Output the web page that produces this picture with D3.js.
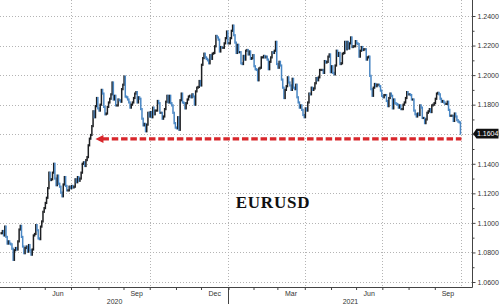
<!DOCTYPE html>
<html>
<head>
<meta charset="utf-8">
<script src="https://cdn.jsdelivr.net/npm/d3@7"></script>
<style>
  html, body { margin: 0; padding: 0; background: #fff; }
  svg { display: block; }
</style>
</head>
<body>
<div id="chart"></div>
<script>
// EURUSD daily closes, one array per month (weekdays)
var apr20 = [1.0930, 1.0945, 1.0915, 1.0975, 1.0905, 1.0860, 1.0875, 1.0860, 1.0855, 1.0825, 1.0750, 1.0815, 1.0830, 1.0820, 1.0875, 1.0955];
var may20 = [1.0980, 1.0905, 1.0840, 1.0795, 1.0830, 1.0840, 1.0805, 1.0850, 1.0815, 1.0785, 1.0820, 1.0915, 1.0925, 1.0985, 1.0950, 1.0895, 1.0890, 1.0975, 1.1010, 1.1075, 1.1100];
var jun20 = [1.1135, 1.1170, 1.1235, 1.1340, 1.1290, 1.1295, 1.1340, 1.1400, 1.1300, 1.1255, 1.1320, 1.1265, 1.1245, 1.1205, 1.1180, 1.1260, 1.1310, 1.1250, 1.1220, 1.1220, 1.1245, 1.1235];
var jul20 = [1.1250, 1.1240, 1.1245, 1.1295, 1.1275, 1.1310, 1.1285, 1.1300, 1.1340, 1.1400, 1.1410, 1.1385, 1.1425, 1.1445, 1.1525, 1.1570, 1.1595, 1.1655, 1.1755, 1.1715, 1.1790, 1.1845, 1.1775];
var aug20 = [1.1760, 1.1800, 1.1900, 1.1875, 1.1785, 1.1735, 1.1740, 1.1785, 1.1815, 1.1840, 1.1870, 1.1950, 1.1835, 1.1860, 1.1795, 1.1795, 1.1835, 1.1830, 1.1820, 1.1905, 1.1935];
var sep20 = [1.1990, 1.1855, 1.1850, 1.1835, 1.1815, 1.1780, 1.1800, 1.1815, 1.1845, 1.1875, 1.1885, 1.1815, 1.1850, 1.1840, 1.1770, 1.1705, 1.1660, 1.1670, 1.1620, 1.1665, 1.1745, 1.1720];
var oct20 = [1.1750, 1.1715, 1.1780, 1.1735, 1.1760, 1.1760, 1.1825, 1.1810, 1.1745, 1.1745, 1.1705, 1.1720, 1.1770, 1.1820, 1.1860, 1.1815, 1.1860, 1.1810, 1.1795, 1.1745, 1.1675, 1.1645];
var nov20 = [1.1640, 1.1715, 1.1630, 1.1830, 1.1875, 1.1815, 1.1810, 1.1775, 1.1810, 1.1835, 1.1855, 1.1860, 1.1850, 1.1870, 1.1855, 1.1800, 1.1890, 1.1915, 1.1920, 1.1960, 1.1930];
var dec20 = [1.2070, 1.2115, 1.2145, 1.2120, 1.2110, 1.2100, 1.2080, 1.2135, 1.2110, 1.2145, 1.2150, 1.2195, 1.2265, 1.2255, 1.2240, 1.2160, 1.2190, 1.2185, 1.2185, 1.2215, 1.2250, 1.2295, 1.2215];
var jan21 = [1.2215, 1.2250, 1.2300, 1.2335, 1.2270, 1.2220, 1.2150, 1.2205, 1.2155, 1.2155, 1.2080, 1.2075, 1.2130, 1.2105, 1.2165, 1.2170, 1.2140, 1.2160, 1.2110, 1.2115, 1.2135];
var feb21 = [1.2060, 1.2040, 1.2035, 1.1965, 1.2045, 1.2050, 1.2120, 1.2120, 1.2130, 1.2120, 1.2125, 1.2105, 1.2040, 1.2090, 1.2120, 1.2155, 1.2150, 1.2165, 1.2225, 1.2075];
var mar21 = [1.2050, 1.2090, 1.2065, 1.1970, 1.1915, 1.1845, 1.1900, 1.1925, 1.1985, 1.1950, 1.1930, 1.1900, 1.1975, 1.1915, 1.1905, 1.1935, 1.1850, 1.1815, 1.1780, 1.1795, 1.1765, 1.1730, 1.1715];
var apr21 = [1.1775, 1.1760, 1.1815, 1.1875, 1.1870, 1.1915, 1.1900, 1.1910, 1.1945, 1.1980, 1.1965, 1.1985, 1.2035, 1.2035, 1.2035, 1.2015, 1.2095, 1.2085, 1.2090, 1.2125, 1.2140, 1.2020];
var may21 = [1.2060, 1.2015, 1.2005, 1.2065, 1.2165, 1.2130, 1.2150, 1.2075, 1.2080, 1.2145, 1.2150, 1.2225, 1.2175, 1.2225, 1.2180, 1.2215, 1.2255, 1.2190, 1.2195, 1.2195, 1.2230];
var jun21 = [1.2215, 1.2210, 1.2125, 1.2165, 1.2190, 1.2170, 1.2175, 1.2175, 1.2105, 1.2120, 1.2125, 1.1995, 1.1905, 1.1860, 1.1915, 1.1940, 1.1925, 1.1935, 1.1935, 1.1925, 1.1895, 1.1860];
var jul21 = [1.1850, 1.1865, 1.1865, 1.1825, 1.1790, 1.1845, 1.1875, 1.1860, 1.1775, 1.1835, 1.1810, 1.1805, 1.1800, 1.1780, 1.1795, 1.1770, 1.1770, 1.1800, 1.1815, 1.1845, 1.1885, 1.1870];
var aug21 = [1.1870, 1.1865, 1.1835, 1.1835, 1.1760, 1.1735, 1.1720, 1.1740, 1.1730, 1.1795, 1.1780, 1.1710, 1.1710, 1.1675, 1.1700, 1.1745, 1.1755, 1.1770, 1.1750, 1.1795, 1.1800, 1.1810];
var sep21 = [1.1840, 1.1875, 1.1880, 1.1870, 1.1840, 1.1820, 1.1825, 1.1815, 1.1805, 1.1805, 1.1820, 1.1765, 1.1725, 1.1725, 1.1725, 1.1690, 1.1740, 1.1720, 1.1695, 1.1685, 1.1680, 1.1604];

var monthNames = ["Apr", "May", "Jun", "Jul", "Aug", "Sep", "Oct", "Nov", "Dec",
                  "Jan", "Feb", "Mar", "Apr", "May", "Jun", "Jul", "Aug", "Sep"];
var monthYears = [2020, 2020, 2020, 2020, 2020, 2020, 2020, 2020, 2020,
                  2021, 2021, 2021, 2021, 2021, 2021, 2021, 2021, 2021];
var monthCloses = [apr20, may20, jun20, jul20, aug20, sep20, oct20, nov20, dec20,
                   jan21, feb21, mar21, apr21, may21, jun21, jul21, aug21, sep21];
var labelledMonths = ["Mar", "Jun", "Sep", "Dec"];

var yTicks = [1.06, 1.08, 1.10, 1.12, 1.14, 1.16, 1.18, 1.20, 1.22, 1.24];
var yMinorTicks = [1.07, 1.09, 1.11, 1.13, 1.15, 1.17, 1.19, 1.21, 1.23];
var lastValue = 1.1604;
var arrowLevel = 1.1568;
var title = "EURUSD";

// flatten
var closes = [];
var monthStart = [];
monthCloses.forEach(function (arr) {
  monthStart.push(closes.length);
  closes = closes.concat(arr);
});

var width = 500, height = 304;
var plotRight = 472.5, axisY = 287.5;

var x = d3.scaleLinear().domain([-1.03, 395.1]).range([0, plotRight]);
var y = d3.scaleLinear().domain([1.06, 1.24]).range([282, 16]);

var svg = d3.select("#chart")
  .append("svg")
    .attr("width", width)
    .attr("height", height);

// grid lines
var gridColor = "#b4b4b4";
svg.append("g")
  .selectAll("line")
  .data(yTicks)
  .join("line")
    .attr("x1", 0)
    .attr("x2", plotRight)
    .attr("y1", d => Math.round(y(d)) + 0.5)
    .attr("y2", d => Math.round(y(d)) + 0.5)
    .attr("stroke", gridColor)
    .attr("stroke-dasharray", "1,2");

// quarter lines sit at the end of each labelled month
var quarterEnds = [];
monthNames.forEach(function (m, i) {
  if (labelledMonths.indexOf(m) >= 0) {
    quarterEnds.push(monthStart[i] + monthCloses[i].length - 0.5);
  }
});

svg.append("g")
  .selectAll("line")
  .data(quarterEnds)
  .join("line")
    .attr("x1", d => Math.round(x(d)) + 0.5)
    .attr("x2", d => Math.round(x(d)) + 0.5)
    .attr("y1", 0)
    .attr("y2", axisY)
    .attr("stroke", gridColor)
    .attr("stroke-dasharray", "1,2");

// candles: open = previous close
var upColor = "#1d1f22";
var downColor = "#4a87c4";
svg.append("g")
  .selectAll("rect")
  .data(closes)
  .join("rect")
    .attr("x", (d, i) => x(i) - 0.75)
    .attr("width", 1.5)
    .attr("y", function (d, i) {
      var o = i ? closes[i - 1] : d;
      return y(Math.max(o, d)) - 1.1;
    })
    .attr("height", function (d, i) {
      var o = i ? closes[i - 1] : d;
      return Math.abs(y(o) - y(d)) + 2.2;
    })
    .attr("fill", function (d, i) {
      var o = i ? closes[i - 1] : d;
      return d >= o ? upColor : downColor;
    });

// red dashed arrow
var red = "#d8262b";
var arrowY = y(arrowLevel);
var lastX = x(closes.length - 1);
var tipX = x(monthStart[3] + 20);
svg.append("line")
  .attr("x1", tipX + 7)
  .attr("x2", lastX + 1)
  .attr("y1", arrowY)
  .attr("y2", arrowY)
  .attr("stroke", red)
  .attr("stroke-width", 3.2)
  .attr("stroke-dasharray", "6.5,2.8");

svg.append("path")
  .attr("d", "M" + tipX + "," + arrowY + "L" + (tipX + 8) + "," + (arrowY - 4) + "L" + (tipX + 8) + "," + (arrowY + 4) + "Z")
  .attr("fill", red);

// right axis
svg.append("line")
  .attr("x1", plotRight).attr("x2", plotRight)
  .attr("y1", 0).attr("y2", axisY)
  .attr("stroke", "#444");

var fontAxis = "'Liberation Sans', Arial, sans-serif";

var yAxis = svg.append("g")
  .attr("transform", "translate(" + plotRight + ",0)")
  .call(d3.axisRight(y).tickValues(yTicks).tickSize(3).tickPadding(2).tickFormat(d3.format(".4f")));
yAxis.select(".domain").remove();
yAxis.selectAll("line").attr("stroke", "#444");
yAxis.selectAll("text")
  .attr("fill", "#333")
  .style("font-family", fontAxis)
  .style("font-size", "7px");

var yMinor = svg.append("g")
  .attr("transform", "translate(" + plotRight + ",0)")
  .call(d3.axisRight(y).tickValues(yMinorTicks).tickSize(2).tickFormat(""));
yMinor.select(".domain").remove();
yMinor.selectAll("line").attr("stroke", "#444");

// last value tag
var ly = y(lastValue);
svg.append("path")
  .attr("d", "M" + (plotRight + 0.5) + "," + ly + "L" + (plotRight + 4) + "," + (ly - 4.8) +
             "L498.5," + (ly - 4.8) + "L498.5," + (ly + 4.8) + "L" + (plotRight + 4) + "," + (ly + 4.8) + "Z")
  .attr("fill", "#111");
svg.append("text")
  .attr("x", plotRight + 4.5)
  .attr("y", ly)
  .attr("dy", "0.35em")
  .attr("fill", "#fff")
  .style("font-family", fontAxis)
  .style("font-size", "7px")
  .text(d3.format(".4f")(lastValue));

// bottom axis
svg.append("line")
  .attr("x1", 0).attr("x2", plotRight)
  .attr("y1", axisY).attr("y2", axisY)
  .attr("stroke", "#444");

var monthBounds = monthStart.slice(1).map(d => d - 0.5);
var xAxis = svg.append("g")
  .attr("transform", "translate(0," + axisY + ")")
  .call(d3.axisBottom(x).tickValues(monthBounds).tickSize(2.5).tickFormat(""));
xAxis.select(".domain").remove();
xAxis.selectAll("line").attr("stroke", "#444");

monthNames.forEach(function (m, i) {
  if (labelledMonths.indexOf(m) < 0) return;
  var mid = monthStart[i] + (monthCloses[i].length - 1) / 2;
  svg.append("text")
    .attr("x", x(mid))
    .attr("y", 296)
    .attr("text-anchor", "middle")
    .attr("fill", "#333")
    .style("font-family", fontAxis)
    .style("font-size", "7px")
    .text(m);
});

// year labels and divider
var years = [2020, 2021];
years.forEach(function (yr) {
  var first = monthYears.indexOf(yr);
  var last = monthYears.lastIndexOf(yr);
  var x0 = Math.max(0, x(monthStart[first] - 0.5));
  var x1 = last === monthYears.length - 1 ? plotRight : x(monthStart[last + 1] - 0.5);
  svg.append("text")
    .attr("x", (x0 + x1) / 2)
    .attr("y", 303.5)
    .attr("text-anchor", "middle")
    .attr("fill", "#333")
    .style("font-family", fontAxis)
    .style("font-size", "7px")
    .text(yr);
  if (first > 0) {
    svg.append("line")
      .attr("x1", Math.round(x0) + 0.5).attr("x2", Math.round(x0) + 0.5)
      .attr("y1", axisY).attr("y2", height)
      .attr("stroke", "#444");
  }
});

// title
svg.append("text")
  .attr("x", 273)
  .attr("y", 208)
  .attr("text-anchor", "middle")
  .attr("fill", "#111")
  .style("font-family", "'Liberation Serif', 'Times New Roman', serif")
  .style("font-weight", "bold")
  .style("font-size", "17px")
  .style("letter-spacing", "0.8px")
  .text(title);
</script>
</body>
</html>
